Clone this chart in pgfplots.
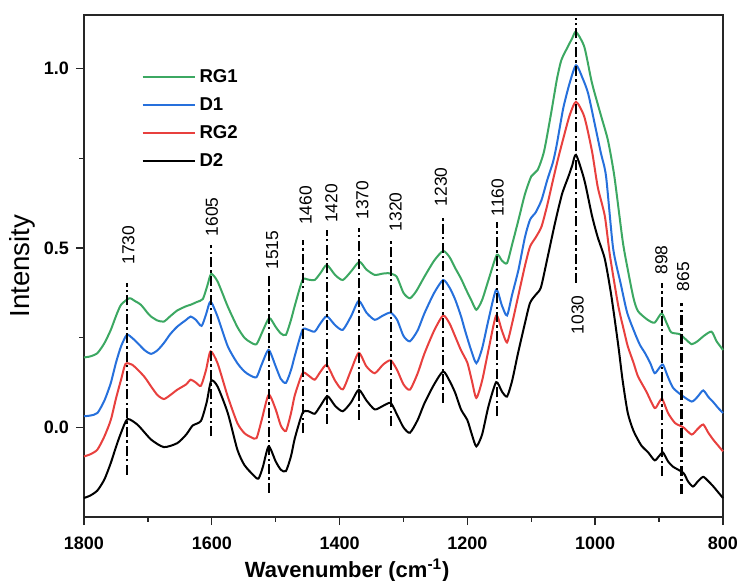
\documentclass[border=0pt]{standalone}
\usepackage{pgfplots}
\pgfplotsset{compat=1.18}
\usepackage{fontspec}
\setmainfont{Liberation Sans}
\definecolor{cG}{RGB}{60,168,98}
\definecolor{cB}{RGB}{38,112,220}
\definecolor{cR}{RGB}{232,64,62}
\pgfplotsset{peak/.style={black, line width=1.1pt, dash pattern=on 5pt off 1.6pt on 1.2pt off 1.6pt, forget plot}}
\tikzset{plab/.style={rotate=90, inner sep=0pt, font=\fontsize{8.7}{10}\selectfont}}
\begin{document}
\begin{tikzpicture}
\begin{axis}[
 scale only axis, width=319.5pt, height=251pt,
 xmin=800, xmax=1800, x dir=reverse, ymin=-0.25, ymax=1.15,
 xtick={800,1000,1200,1400,1600,1800}, minor x tick num=1,
 ytick={0,0.5,1}, minor y tick num=1,
 xtick pos=bottom, ytick pos=left, tick align=outside,
 major tick length=4pt, minor tick length=2.3pt,
 tick style={line width=0.7pt, black!85},
 axis line style={line width=0.7pt, black!85},
 /pgf/number format/assume math mode=true,
 ticklabel style={font=\bfseries\fontsize{9}{10}\selectfont},
 yticklabel style={/pgf/number format/fixed, /pgf/number format/fixed zerofill, /pgf/number format/precision=1},
 xticklabel style={/pgf/number format/1000 sep={}, yshift=-2.5pt},
 xlabel={\textbf{Wavenumber (cm\textsuperscript{-1})}},
 ylabel={Intensity},
 xlabel style={font=\fontsize{11}{13}\selectfont, at={(axis description cs:0.412,-0.107)}, anchor=center},
 ylabel style={font=\fontsize{13.8}{16}\selectfont, at={(axis description cs:-0.0962,0.5)}, anchor=center},
 legend style={draw=none, fill=none, at={(axis cs:1720,1.022)}, anchor=north west, font=\bfseries\fontsize{9.3}{11}\selectfont, row sep=2pt},
 legend cell align=left,
 legend image code/.code={\draw[#1, line width=1pt] (0pt,0pt) -- (26pt,0pt);},
 every axis plot/.append style={line width=1pt},
 clip=false,
]
\addplot[cG, smooth, tension=0.4] table {
1800 0.195
1790 0.198
1779 0.207
1768 0.235
1758 0.272
1750 0.310
1742 0.342
1729 0.360
1720 0.352
1711 0.342
1700 0.318
1695 0.309
1685 0.298
1675 0.295
1665 0.310
1654 0.326
1640 0.338
1633 0.342
1623 0.350
1614 0.358
1607 0.395
1601 0.428
1591 0.407
1575 0.337
1560 0.280
1549 0.250
1540 0.238
1530 0.232
1520 0.270
1510 0.305
1500 0.280
1492 0.262
1484 0.258
1476 0.300
1470 0.340
1458 0.411
1449 0.412
1439 0.411
1430 0.430
1420 0.453
1407 0.425
1395 0.411
1382 0.435
1369 0.462
1358 0.440
1345 0.425
1335 0.428
1324 0.430
1311 0.421
1300 0.375
1290 0.360
1280 0.380
1267 0.421
1252 0.465
1238 0.492
1228 0.475
1219 0.444
1210 0.415
1202 0.384
1194 0.355
1186 0.328
1177 0.355
1167 0.411
1154 0.481
1146 0.465
1138 0.458
1130 0.510
1120 0.579
1110 0.650
1100 0.700
1090 0.718
1080 0.770
1069 0.876
1060 0.970
1053 1.024
1043 1.061
1036 1.085
1030 1.103
1017 1.061
1005 0.960
991 0.870
980 0.800
970 0.700
957 0.520
949 0.440
940 0.360
933 0.324
918 0.300
907 0.292
896 0.318
888 0.290
881 0.265
868 0.260
858 0.245
849 0.232
840 0.240
830 0.255
818 0.267
810 0.240
800 0.216
};
\addlegendentry{RG1}
\addplot[cB, smooth, tension=0.4] table {
1800 0.031
1790 0.033
1779 0.040
1768 0.075
1758 0.124
1750 0.180
1742 0.226
1733 0.258
1725 0.250
1716 0.235
1705 0.215
1695 0.205
1685 0.215
1675 0.235
1665 0.260
1654 0.281
1640 0.300
1633 0.309
1625 0.300
1616 0.283
1609 0.315
1602 0.351
1591 0.309
1575 0.226
1560 0.179
1549 0.156
1540 0.145
1530 0.140
1522 0.175
1511 0.216
1500 0.170
1492 0.135
1484 0.124
1476 0.160
1470 0.200
1458 0.272
1449 0.272
1439 0.267
1430 0.290
1420 0.310
1407 0.285
1395 0.272
1382 0.310
1370 0.353
1358 0.320
1345 0.300
1332 0.312
1320 0.320
1310 0.300
1300 0.255
1290 0.240
1278 0.270
1267 0.319
1252 0.375
1238 0.411
1228 0.390
1219 0.356
1210 0.310
1204 0.272
1195 0.220
1186 0.179
1177 0.220
1167 0.300
1155 0.384
1146 0.340
1138 0.312
1130 0.370
1120 0.440
1110 0.530
1102 0.579
1093 0.600
1084 0.634
1075 0.690
1066 0.740
1060 0.790
1050 0.890
1040 0.960
1030 1.010
1020 0.975
1011 0.931
1000 0.840
991 0.764
983 0.700
972 0.500
960 0.400
950 0.320
938 0.263
930 0.230
922 0.207
914 0.180
907 0.151
900 0.165
894 0.175
886 0.140
878 0.110
865 0.090
849 0.072
840 0.085
831 0.103
823 0.085
815 0.070
808 0.055
800 0.040
};
\addlegendentry{D1}
\addplot[cR, smooth, tension=0.4] table {
1800 -0.081
1790 -0.075
1779 -0.062
1768 -0.025
1758 0.021
1750 0.080
1742 0.133
1735 0.177
1725 0.175
1716 0.161
1705 0.140
1695 0.114
1685 0.090
1675 0.079
1665 0.090
1654 0.105
1640 0.120
1633 0.133
1625 0.125
1617 0.116
1609 0.160
1602 0.212
1591 0.179
1575 0.086
1560 0.012
1549 -0.016
1538 -0.028
1530 -0.030
1522 0.020
1511 0.091
1500 0.050
1492 0.005
1484 -0.010
1476 0.040
1470 0.090
1458 0.151
1449 0.145
1439 0.133
1430 0.155
1420 0.174
1407 0.130
1395 0.106
1382 0.160
1370 0.208
1358 0.170
1345 0.151
1332 0.175
1320 0.187
1310 0.160
1300 0.120
1290 0.105
1278 0.150
1267 0.207
1252 0.270
1238 0.312
1228 0.290
1219 0.253
1210 0.215
1200 0.180
1193 0.130
1186 0.082
1177 0.130
1167 0.216
1155 0.312
1146 0.270
1138 0.237
1130 0.290
1120 0.370
1110 0.450
1102 0.504
1093 0.530
1084 0.560
1075 0.620
1066 0.690
1058 0.750
1050 0.805
1040 0.870
1030 0.908
1017 0.866
1005 0.770
996 0.670
985 0.590
977 0.480
964 0.340
955 0.270
949 0.226
940 0.180
933 0.142
920 0.100
907 0.054
900 0.070
895 0.079
886 0.040
875 0.012
862 0.000
849 -0.020
840 -0.005
831 0.008
823 -0.015
815 -0.035
808 -0.050
800 -0.067
};
\addlegendentry{RG2}
\addplot[black, smooth, tension=0.4] table {
1800 -0.197
1790 -0.190
1779 -0.176
1768 -0.145
1758 -0.099
1750 -0.055
1742 -0.015
1732 0.023
1716 0.007
1695 -0.034
1675 -0.055
1654 -0.044
1640 -0.020
1630 0.005
1617 0.018
1608 0.070
1601 0.130
1591 0.114
1575 0.040
1560 -0.062
1549 -0.105
1535 -0.133
1527 -0.143
1520 -0.110
1511 -0.053
1500 -0.095
1492 -0.118
1484 -0.122
1476 -0.080
1470 -0.030
1458 0.040
1449 0.045
1439 0.038
1430 0.060
1419 0.087
1407 0.060
1395 0.045
1382 0.070
1370 0.105
1358 0.075
1345 0.050
1332 0.060
1320 0.068
1310 0.035
1300 0.000
1290 -0.015
1278 0.020
1267 0.068
1252 0.120
1238 0.156
1228 0.130
1219 0.096
1210 0.050
1200 0.020
1193 -0.020
1186 -0.053
1177 -0.020
1167 0.059
1155 0.126
1146 0.100
1138 0.086
1130 0.130
1121 0.205
1110 0.290
1102 0.347
1093 0.370
1085 0.390
1075 0.470
1063 0.569
1052 0.650
1042 0.699
1036 0.730
1030 0.760
1017 0.690
1005 0.590
996 0.530
985 0.470
975 0.370
964 0.230
957 0.130
949 0.040
940 -0.010
928 -0.050
917 -0.070
907 -0.092
900 -0.080
894 -0.070
886 -0.095
878 -0.110
862 -0.127
855 -0.150
847 -0.165
839 -0.150
831 -0.138
823 -0.150
815 -0.165
808 -0.180
800 -0.197
};
\addlegendentry{D2}
\addplot[peak] coordinates {(1733,-0.132) (1733,0.402)};
\addplot[peak] coordinates {(1601,-0.025) (1601,0.509)};
\addplot[peak] coordinates {(1511,-0.183) (1511,0.421)};
\addplot[peak] coordinates {(1457,-0.016) (1457,0.523)};
\addplot[peak] coordinates {(1420,0.010) (1420,0.551)};
\addplot[peak] coordinates {(1370,0.021) (1370,0.556)};
\addplot[peak] coordinates {(1319,0.003) (1319,0.523)};
\addplot[peak] coordinates {(1238,0.068) (1238,0.592)};
\addplot[peak] coordinates {(1154,0.031) (1154,0.574)};
\addplot[peak] coordinates {(1030,0.403) (1030,1.141)};
\addplot[peak] coordinates {(896,-0.136) (896,0.402)};
\addplot[peak] coordinates {(865,-0.187) (865,0.347)};
\node[plab, anchor=west] at (axis cs:1730.5,0.453) {1730};
\node[plab, anchor=west] at (axis cs:1599.7,0.532) {1605};
\node[plab, anchor=west] at (axis cs:1505.6,0.439) {1515};
\node[plab, anchor=west] at (axis cs:1453.3,0.564) {1460};
\node[plab, anchor=west] at (axis cs:1413,0.569) {1420};
\node[plab, anchor=west] at (axis cs:1364.4,0.579) {1370};
\node[plab, anchor=west] at (axis cs:1312.2,0.546) {1320};
\node[plab, anchor=west] at (axis cs:1241.6,0.616) {1230};
\node[plab, anchor=west] at (axis cs:1152.6,0.588) {1160};
\node[plab, anchor=east] at (axis cs:1027.5,0.369) {1030};
\node[plab, anchor=west] at (axis cs:896.5,0.425) {898};
\node[plab, anchor=west] at (axis cs:862.4,0.379) {865};
\end{axis}
\pgfresetboundingbox
\path ([shift={(-42pt,-31.5pt)}]current axis.south west) rectangle ([shift={(7.5pt,7.5pt)}]current axis.north east);
\end{tikzpicture}
\end{document}
